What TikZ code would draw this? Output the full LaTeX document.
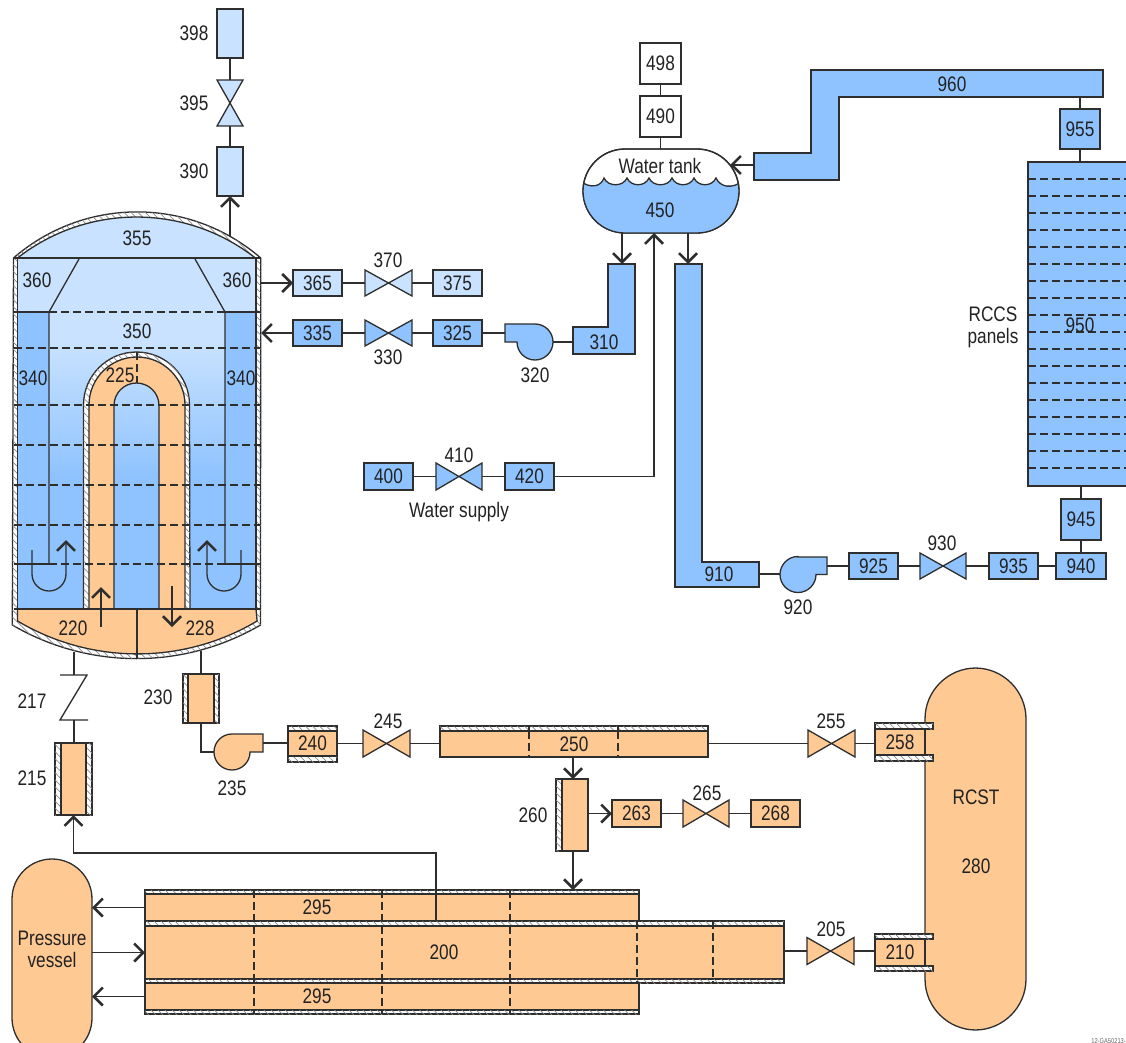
\documentclass[tikz,border=0pt]{standalone}
\usepackage{fontspec}
\setmainfont[FakeStretch=0.82]{Liberation Sans}
\usetikzlibrary{arrows.meta,patterns.meta}
\definecolor{lnc}{HTML}{2E2E2E}
\definecolor{txt}{HTML}{222222}
\definecolor{lb}{HTML}{C8E2FF}
\definecolor{mb}{HTML}{8FC3FF}
\definecolor{og}{HTML}{FFC993}
\definecolor{hatch}{HTML}{8A8A8A}
\tikzset{
  lw/.style={line width=1.3pt,draw=lnc},
  conn/.style={lw,>={Straight Barb[length=9pt,width=18pt,line width=2.5pt]}},
  boxn/.style={lw,rectangle,inner sep=0pt,outer sep=0pt,text=txt},
  ghost/.style={rectangle,inner sep=0pt,outer sep=0pt},
  lbl/.style={inner sep=0pt,outer sep=0pt,text=txt,align=center},
  wall/.style={lw,fill=white,postaction={pattern={Lines[angle=135,distance=5pt,line width=.7pt]},pattern color=hatch}},
  dsh/.style={lw,dash pattern=on 8pt off 4pt},
}
\newcommand{\pbox}[7]{\node[boxn,fill=#6,minimum width={(#4-#2)*1pt},minimum height={(#5-#3)*1pt}] (#1) at ({(#2+#4)/2},{(#3+#5)/2}) {#7};}
\newcommand{\valveh}[6]{\node[ghost,minimum width={(#3-#2)*1pt},minimum height={#5*1pt}] (#1) at ({(#2+#3)/2},#4) {};
  \draw[lw,fill=#6,line join=miter] (#1.north west) -- (#1.south east) -- (#1.north east) -- (#1.south west) -- cycle;}
\newcommand{\lab}[4]{\node[lbl] (#1) at (#2,#3) {#4};}
\newcommand{\wl}[4]{\draw[wall] (#1,#2) rectangle (#3,#4);}
\newcommand{\bgrad}{\fill[lb] (49,258) rectangle (225,345);
  \shade[top color=lb,bottom color=mb] (49,344) rectangle (225,475);
  \fill[mb] (49,474) rectangle (225,609);}
\newcommand{\wavepath}{(578,180) .. controls (592,190) and (601,186) .. (604,178) .. controls (608,187) and (623,187) .. (627,178) .. controls (631,187) and (645,187) .. (649,178) .. controls (653,187) and (668,187) .. (672,178) .. controls (676,187) and (690,187) .. (694,178) .. controls (698,187) and (712,187) .. (716,178) .. controls (720,187) and (732,190) .. (744,180)}
\begin{document}
\begin{tikzpicture}[x=1pt,y=-1pt,font=\fontsize{21}{22}\selectfont]
\useasboundingbox (0,0) rectangle (1126,1043);
\clip (0,0) rectangle (1126,1043);
\fill[white] (0,0) rectangle (1126,1043);

% ---------- reactor vessel
\draw[wall] (13.5,258) arc[start angle=130.9,end angle=49.1,radius=188.8pt] -- (260.5,625) arc[start angle=300.3,end angle=239.7,radius=246pt] -- cycle;
\draw[lw,fill=lb] (17.5,258) arc[start angle=128,end angle=52,radius=193.2pt] -- cycle;
\fill[lb] (17.5,258) rectangle (256,312);
\bgrad
\fill[mb] (17.5,312) rectangle (49,609);
\fill[mb] (225,312) rectangle (256,609);
\draw[lw] (17.5,258) -- (17.5,621);
\draw[lw] (256,258) -- (256,621);
\draw[lw] (13.5,258) -- (260.5,258);
\draw[lw] (79,259) -- (49,312) -- (49,564);
\draw[lw] (195,259) -- (225,312) -- (225,564);
% core U
\draw[wall] (83.5,609) -- (83.5,405) arc[start angle=180,end angle=0,radius=53pt] -- (190,609) -- cycle;
\draw[lw,fill=og] (89,609) -- (89,405) arc[start angle=180,end angle=0,radius=48pt] -- (185,609) -- cycle;
\begin{scope}
\clip (114,609) -- (114,405.5) arc[start angle=180,end angle=0,radius=22.5pt] -- (159,609) -- cycle;
\bgrad
\end{scope}
\draw[lw] (114,609) -- (114,405.5) arc[start angle=180,end angle=0,radius=22.5pt] -- (159,609);
% lower head
\draw[lw,fill=og] (17.5,609) -- (17.5,621) arc[start angle=239.3,end angle=300.7,radius=234.7pt] -- (256,609) -- cycle;
\draw[lw] (13.5,609) -- (260.5,609);
\draw[lw] (137,609) -- (137,658);
% dashed levels
\foreach \yy in {348,405,445,485,525} {\draw[dsh] (14,\yy) -- (260,\yy);}
\draw[dsh] (49,312) -- (225,312);
\draw[dsh] (49,564) -- (225,564);
\draw[lw] (13.5,312) -- (49,312) (225,312) -- (260.5,312);
\draw[lw] (13.5,564) -- (49,564) (225,564) -- (260.5,564);
\draw[dsh] (137,352) -- (137,383);
% flow arrows in the vessel
\draw[conn,->] (32,550) -- (32,574) arc[start angle=180,end angle=360,radius=17pt] -- (66,540);
\draw[conn,->] (241,550) -- (241,574) arc[start angle=0,end angle=-180,radius=17pt] -- (207,540);
\coordinate (f220) at (101,627); \coordinate (f220t) at (101,587);
\coordinate (f228) at (172,586); \coordinate (f228t) at (172,627);
\draw[conn,->] (f220) -- (f220t);
\draw[conn,->] (f228) -- (f228t);
\lab{l355}{137}{238}{355}
\lab{l360a}{37}{280}{360}
\lab{l360b}{237}{280}{360}
\lab{l350}{137}{331}{350}
\lab{l225}{120}{375}{225}
\lab{l340a}{33}{378}{340}
\lab{l340b}{241}{378}{340}
\lab{l220}{73}{628}{220}
\lab{l228}{200}{628}{228}
\coordinate (vtop) at (230,236.5);
\coordinate (v360) at (261,283);
\coordinate (v335) at (261,333);
\coordinate (vb1) at (74,652);
\coordinate (vb2) at (201,651);

% ---------- 390 branch
\pbox{b398}{217}{9}{243}{58}{lb}{}
\node[ghost,minimum width=26pt,minimum height=46pt] (v395) at (230,103) {};
\draw[lw,fill=lb] (v395.north west) -- (v395.north east) -- (v395.south west) -- (v395.south east) -- cycle;
\pbox{b390}{217}{147}{243}{196}{lb}{}
\lab{l398}{194}{33}{398}
\lab{l395}{194}{103}{395}
\lab{l390}{194}{171}{390}
\draw[lw] (b398) -- (v395);
\draw[lw] (v395) -- (b390);
\draw[conn,->] (vtop) -- (b390);

% ---------- 365 / 335 rows
\pbox{b365}{293}{270}{342}{296}{lb}{365}
\valveh{v370}{365}{412}{283}{26}{lb}
\pbox{b375}{433}{270}{482}{296}{lb}{375}
\lab{l370}{388}{260}{370}
\draw[conn,->] (v360) -- (b365);
\draw[lw] (b365) -- (v370);
\draw[lw] (v370) -- (b375);
\pbox{b335}{293}{320}{342}{346}{mb}{335}
\valveh{v330}{365}{412}{333}{26}{mb}
\pbox{b325}{433}{320}{482}{346}{mb}{325}
\lab{l330}{388}{357}{330}
\draw[conn,->] (b335) -- (v335);
\draw[lw] (b335) -- (v330);
\draw[lw] (v330) -- (b325);
% pump 320
\draw[lw,fill=mb] (535,324) -- (505,324) -- (505,342) -- (517,342) arc[start angle=180,end angle=450,radius=18pt] -- cycle;
\coordinate (p320in) at (505,333);
\coordinate (p320out) at (553,342);
\lab{l320}{535}{375}{320}
\draw[lw] (b325.east) -- (p320in);
% 310
\draw[lw,fill=mb] (608,264) -- (635,264) -- (635,354) -- (573,354) -- (573,327) -- (608,327) -- cycle;
\lab{l310}{604}{342}{310}
\coordinate (p310w) at (573,342);
\coordinate (p310n) at (622,264);
\draw[lw] (p320out) -- (p310w);

% ---------- water tank
\node[lw,fill=white,rectangle,rounded corners=42pt,minimum width=156pt,minimum height=84pt,inner sep=0pt,outer sep=0pt] (tank) at (661,191) {};
\begin{scope}
\clip[rounded corners=42pt] (583,149) rectangle (739,233);
\fill[mb] \wavepath -- (744,240) -- (578,240) -- cycle;
\draw[lw] \wavepath;
\end{scope}
\draw[lw,rounded corners=42pt] (583,149) rectangle (739,233);
\lab{ltank}{660}{166}{Water tank}
\lab{l450}{660}{210}{450}
\pbox{b498}{640}{43}{681}{84}{white}{498}
\pbox{b490}{640}{96}{681}{137}{white}{490}
\draw[lw] (b498) -- (b490);
\draw[lw] (b490) -- (b490.south |- tank.north);
\coordinate (tb1) at (622,233);
\coordinate (tb2) at (654,233);
\coordinate (tb3) at (688,233);
\coordinate (tin) at (730,165);
\draw[conn,->] (tb1) -- (p310n);

% ---------- water supply
\pbox{b400}{364}{463}{413}{490}{mb}{400}
\valveh{v410}{436}{482}{476.5}{27}{mb}
\pbox{b420}{505}{463}{554}{490}{mb}{420}
\lab{l410}{459}{455}{410}
\lab{lsup}{459}{512}{Water supply}
\draw[lw] (b400) -- (v410);
\draw[lw] (v410) -- (b420);
\draw[conn,->] (b420.east) -| (tb2);

% ---------- RCCS loop
\draw[lw,fill=mb] (811,70) -- (1103,70) -- (1103,97) -- (839,97) -- (839,180) -- (754,180) -- (754,153) -- (811,153) -- cycle;
\lab{l960}{952}{84}{960}
\coordinate (p960w) at (754,165);
\coordinate (p960s) at (1080,97);
\draw[conn,->] (p960w) -- (tin);
\pbox{b955}{1060}{109}{1100}{149}{mb}{955}
\draw[lw] (p960s) -- (b955);
\node[boxn,fill=mb,minimum width=104pt,minimum height=324pt] (panel) at (1080,324) {};
\foreach \yy in {179,196,...,468} {\draw[dsh] (1028,\yy) -- (1128,\yy);}
\lab{l950}{1080}{325}{950}
\lab{lrccs}{993}{327}{RCCS\\panels}
\draw[lw] (b955) -- (b955.south |- panel.north);
\pbox{b945}{1061}{499}{1101}{540}{mb}{945}
\draw[lw] (b945) -- (b945.north |- panel.south);
\pbox{b940}{1056}{553}{1106}{579}{mb}{940}
\draw[lw] (b945) -- (b945.south |- b940.north);
\pbox{b935}{989}{553}{1038}{579}{mb}{935}
\valveh{v930}{920}{966}{566}{26}{mb}
\pbox{b925}{849}{553}{898}{579}{mb}{925}
\lab{l930}{942}{543}{930}
\draw[lw] (b940) -- (b935);
\draw[lw] (b935) -- (v930);
\draw[lw] (v930) -- (b925);
% pump 920
\draw[lw,fill=mb] (798,557) -- (827,557) -- (827,574.5) -- (816,574.5) arc[start angle=0,end angle=-270,radius=18pt] -- cycle;
\coordinate (p920in) at (780,574);
\coordinate (p920out) at (827,566);
\lab{l920}{798}{607}{920}
\draw[lw] (b925.west) -- (p920out);
% 910
\draw[lw,fill=mb] (675,264) -- (702,264) -- (702,562) -- (759,562) -- (759,587) -- (675,587) -- cycle;
\lab{l910}{719}{574}{910}
\coordinate (p910n) at (688,264);
\coordinate (p910e) at (759,574);
\draw[lw] (p910e) -- (p920in);
\draw[conn,->] (tb3) -- (p910n);

% ---------- 215 / 217
\coordinate (c217a) at (74,675);
\coordinate (c217b) at (74,720);
\draw[lw] (vb1) -- (c217a);
\draw[lw,line join=miter] (60,675) -- (87,675) -- (60,720) -- (88,720);
\draw[lw] (c217b) -- (74,743);
\lab{l217}{32}{701}{217}
\wl{55}{743}{61}{815}
\wl{86}{743}{92}{815}
\pbox{b215}{61}{743}{86}{815}{og}{}
\lab{l215}{32}{778}{215}

% ---------- 230, pump, 240, 245, 250, 255, 258
\wl{183}{674}{188}{723}
\wl{214}{674}{219}{723}
\pbox{b230}{188}{674}{214}{723}{og}{}
\lab{l230}{158}{697}{230}
\draw[lw] (vb2) -- (b230);
\draw[lw,fill=og] (232,734) -- (263,734) -- (263,752) -- (250,752) arc[start angle=0,end angle=-270,radius=18pt] -- cycle;
\coordinate (p235in) at (214,752);
\coordinate (p235out) at (263,743);
\lab{l235}{232}{788}{235}
\draw[lw] (b230.south) |- (p235in);
\wl{288}{726}{337}{731}
\wl{288}{756}{337}{762}
\pbox{b240}{288}{731}{337}{756}{og}{240}
\draw[lw] (p235out) -- (b240.west |- p235out);
\valveh{v245}{363}{410}{743.5}{27}{og}
\lab{l245}{388}{721}{245}
\draw[lw] (b240) -- (v245);
\wl{440}{726}{708}{731}
\pbox{b250}{440}{731}{708}{757}{og}{250}
\draw[dsh] (529,731) -- (529,757);
\draw[dsh] (618,731) -- (618,757);
\draw[lw] (529,726) -- (529,731) (618,726) -- (618,731);
\draw[lw] (v245) -- (b250.west |- v245);
\valveh{v255}{808}{855}{743.5}{27}{og}
\lab{l255}{831}{721}{255}
\draw[lw] (b250.east |- v255) -- (v255);

% ---------- RCST
\node[lw,fill=og,rectangle,rounded corners=51pt,minimum width=101pt,minimum height=362pt,inner sep=0pt,outer sep=0pt] (rcst) at (975.5,849) {};
\lab{lrcst}{976}{797}{RCST}
\lab{l280}{976}{866}{280}
\wl{875}{723}{933}{729}
\wl{875}{755}{933}{761}
\pbox{b258}{875}{729}{925}{755}{og}{258}
\wl{875}{934}{933}{939}
\wl{875}{966}{933}{971}
\pbox{b210}{875}{939}{925}{966}{og}{210}
\draw[lw] (v255) -- (b258.west |- v255);

% ---------- 260 branch
\wl{556}{779}{562}{851}
\pbox{b260}{562}{779}{588}{851}{og}{}
\lab{l260}{533}{815}{260}
\coordinate (c250s) at (573,757);
\coordinate (c260n) at (573,779);
\coordinate (c260s) at (573,851);
\coordinate (c200n) at (573,890);
\draw[conn,->] (c250s) -- (c260n);
\draw[conn,->] (c260s) -- (c200n);
\pbox{b263}{612}{800}{661}{827}{og}{263}
\coordinate (c260e) at (588,813.5);
\draw[conn,->] (c260e) -- (b263);
\valveh{v265}{683}{729}{813.5}{27}{og}
\lab{l265}{707}{793}{265}
\pbox{b268}{751}{800}{800}{827}{og}{268}
\draw[lw] (b263) -- (v265);
\draw[lw] (v265) -- (b268);

% ---------- main block
\wl{145}{890}{639}{894}
\pbox{b295a}{145}{894}{639}{921}{og}{}
\wl{145}{921}{784}{926}
\pbox{b200}{145}{926}{784}{979}{og}{}
\wl{145}{979}{784}{983}
\pbox{b295b}{145}{983}{639}{1010}{og}{}
\wl{145}{1010}{639}{1014}
\foreach \xx in {254,382,510} {\draw[dsh] (\xx,890) -- (\xx,1014);}
\foreach \xx in {637,713} {\draw[dsh] (\xx,921) -- (\xx,983);}
\lab{l295a}{317}{907}{295}
\lab{l200}{444}{952}{200}
\lab{l295b}{317}{996}{295}
\node[lw,fill=og,rectangle,rounded corners=40pt,minimum width=80pt,minimum height=199pt,inner sep=0pt,outer sep=0pt] (pv) at (52,958.5) {};
\lab{lpv}{52}{949}{Pressure\\vessel}
\draw[conn,->] (b295a.west) -- (b295a.west -| pv.east);
\draw[conn,->] (b200.west -| pv.east) -- (b200.west);
\draw[conn,->] (b295b.west) -- (b295b.west -| pv.east);
\coordinate (c295) at (436,921);
\draw[conn,->] (c295) -- (436,853) -| (b215.south);
\valveh{v205}{807}{854}{951}{27}{og}
\lab{l205}{831}{929}{205}
\draw[lw] (b200.east |- v205) -- (v205);
\draw[lw] (v205) -- (b210.west |- v205);
\node[inner sep=0pt,text=black!60,font=\fontsize{7}{8}\selectfont,anchor=east] (note) at (1126,1041) {12-GA50213-};
\end{tikzpicture}
\end{document}
